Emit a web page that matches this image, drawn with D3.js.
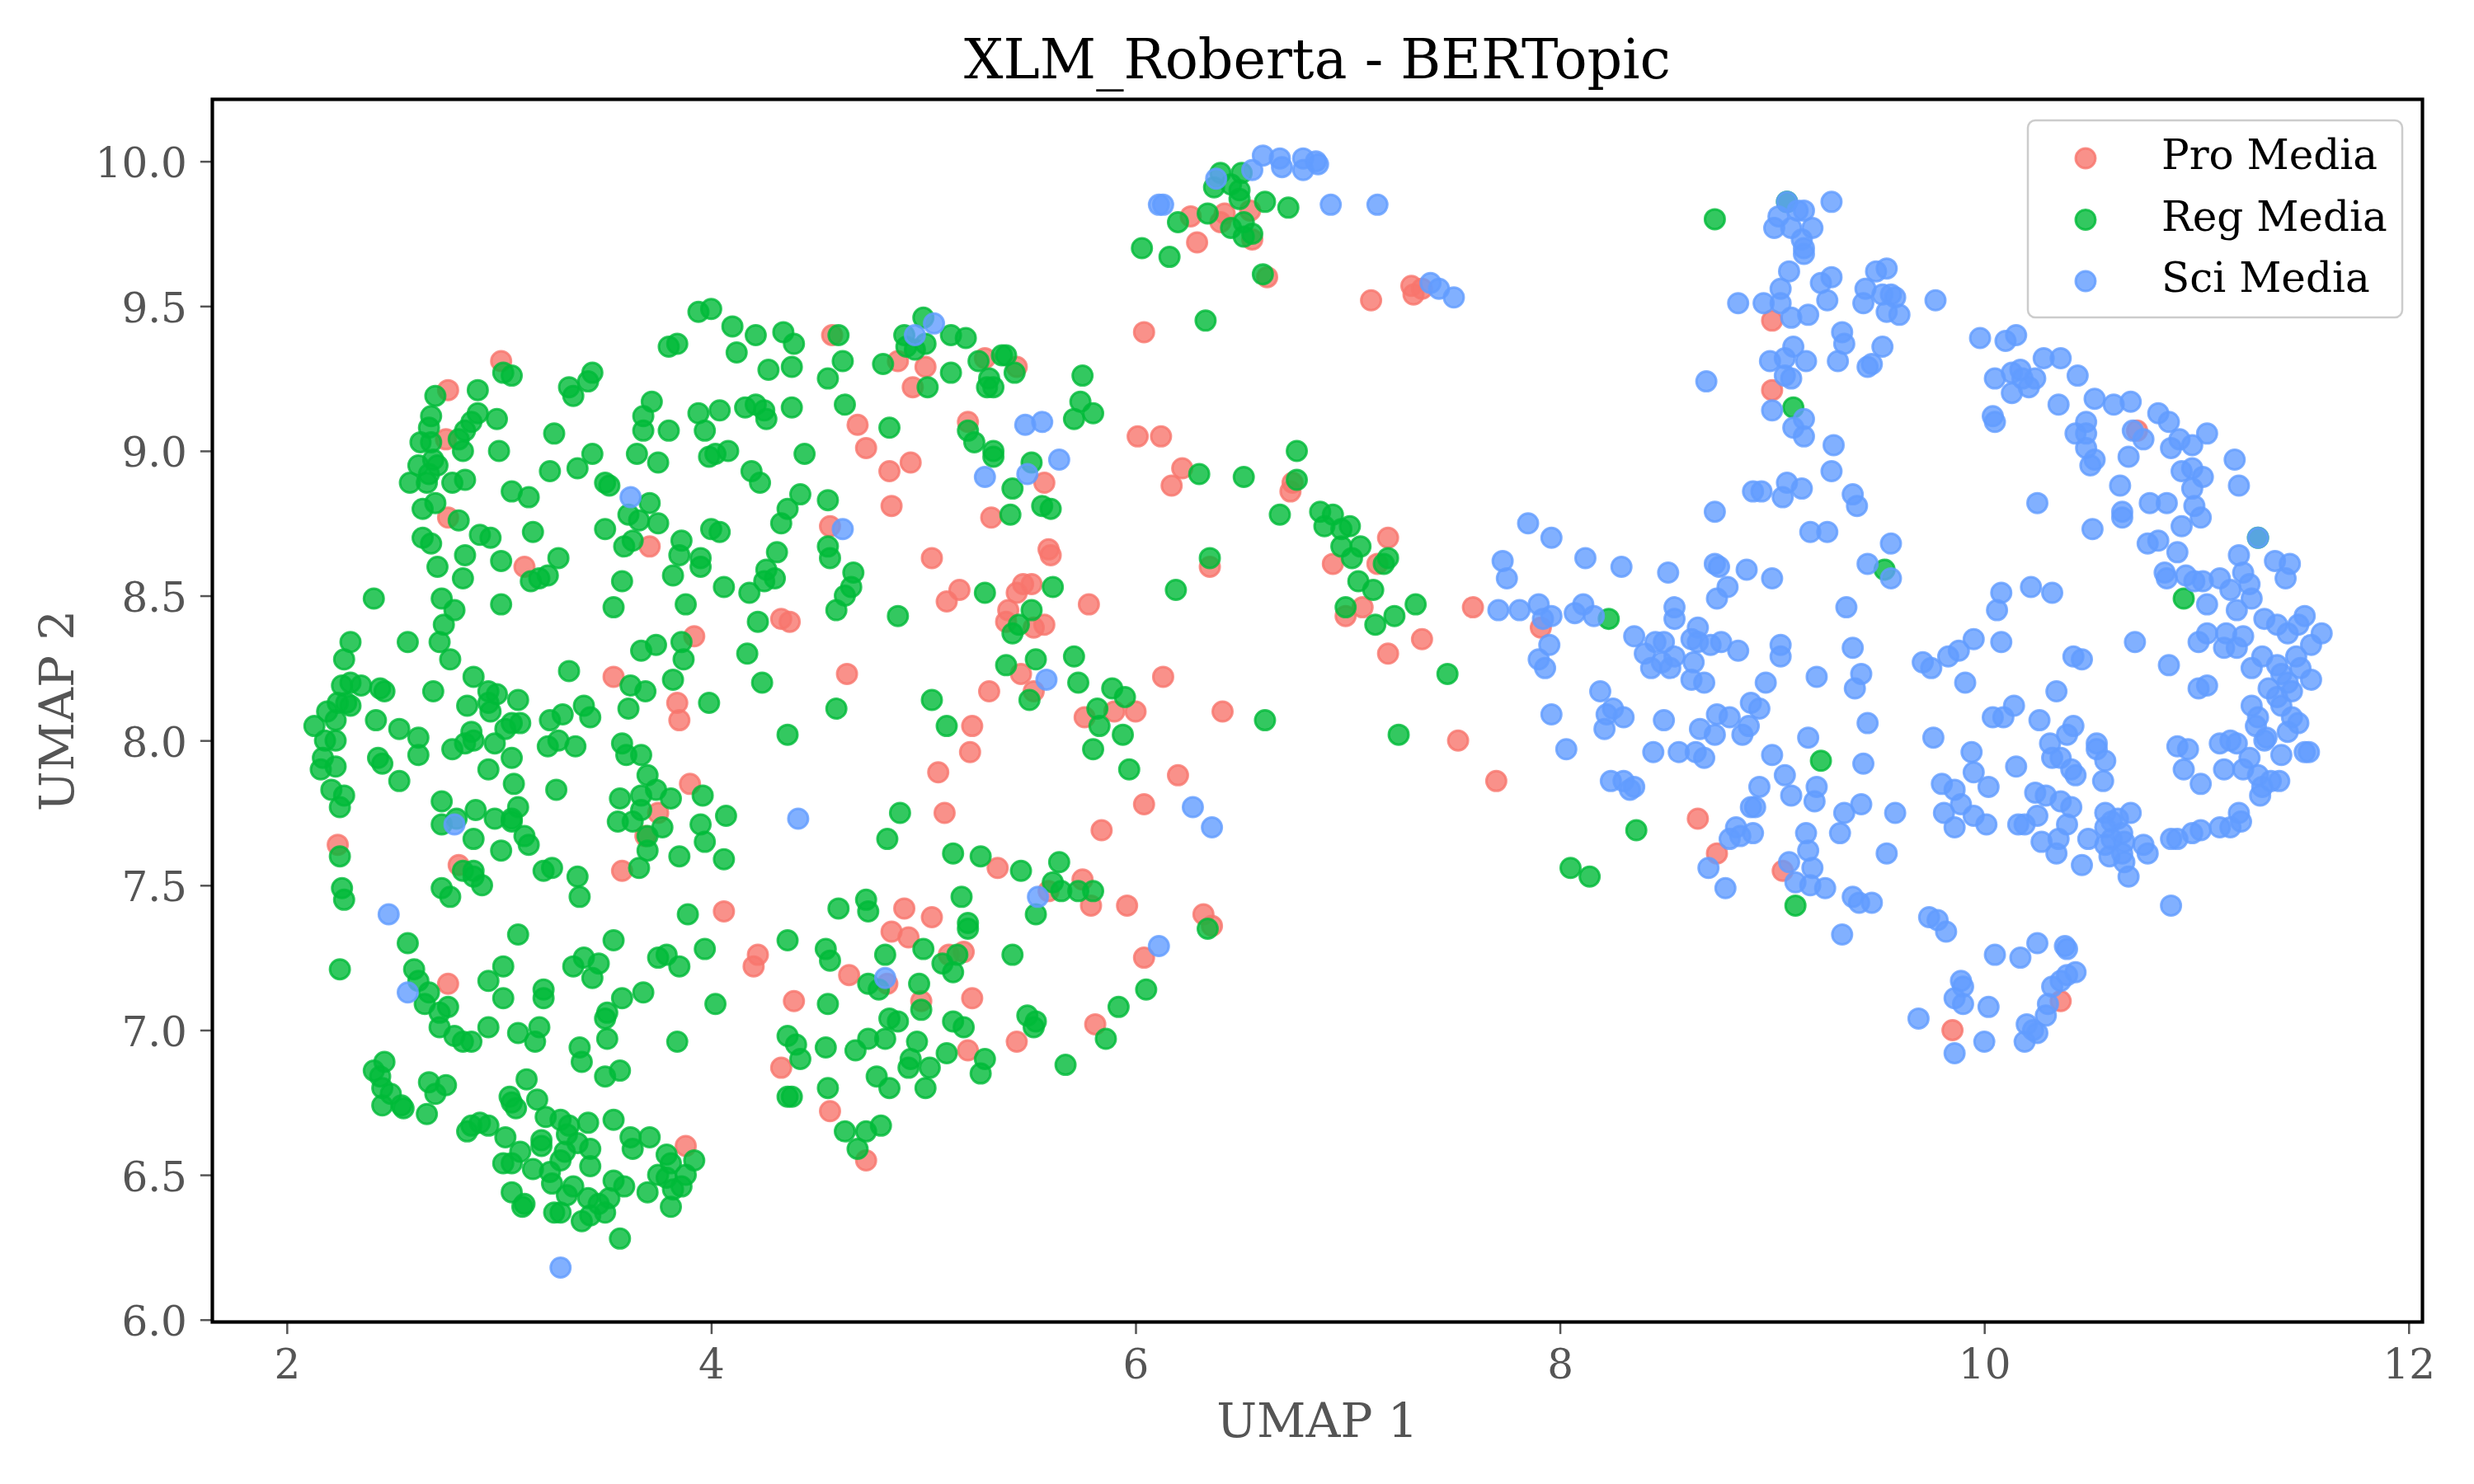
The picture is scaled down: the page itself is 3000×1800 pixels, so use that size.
<!DOCTYPE html>
<meta charset="utf-8">
<script src="https://d3js.org/d3.v7.min.js"></script>
<style>
  body { margin: 0; background: #fff; }
  svg text { font-family: "DejaVu Serif", serif; }
</style>
<body></body>
<script>

// ---- data (UMAP 1, UMAP 2) ----
var seriesNames = ["Pro Media", "Reg Media", "Sci Media"];

var proMedia = [
  [3.01,9.31],[2.76,9.21],[2.75,9.04],[2.76,8.77],[3.12,8.60],[3.71,8.67],[3.92,8.36],[3.54,8.22],[3.84,8.13],[3.85,8.07],[3.90,7.85],[4.33,8.42],[4.37,8.41],
  [2.24,7.64],[2.81,7.57],[3.75,7.75],[3.69,7.67],[3.58,7.55],[4.06,7.41],[4.22,7.26],[4.20,7.22],[4.39,7.10],[2.76,7.16],[4.33,6.87],[3.88,6.60],
  [4.57,9.40],[4.88,9.31],[5.01,9.29],[4.95,9.22],[4.69,9.09],[4.73,9.01],[4.84,8.93],[4.94,8.96],[4.85,8.81],[5.21,9.10],[5.29,9.32],[5.44,9.29],
  [5.57,8.89],[5.32,8.77],[4.56,8.74],[5.04,8.63],[5.59,8.66],[5.60,8.64],[5.17,8.52],[5.11,8.48],[5.47,8.54],[5.51,8.54],[5.44,8.51],[5.78,8.47],
  [5.40,8.45],[5.39,8.41],[5.52,8.39],[5.57,8.40],[4.64,8.23],[5.46,8.23],[5.31,8.17],[5.52,8.17],[6.13,8.22],[6.04,9.41],[6.26,9.81],[6.42,9.82],
  [6.40,9.79],[6.54,9.83],[6.29,9.72],[6.55,9.73],[6.62,9.60],[7.11,9.52],[7.30,9.57],[7.31,9.54],[7.35,9.56],[6.01,9.05],[6.12,9.05],[6.22,8.94],
  [6.17,8.88],[6.74,8.89],[6.73,8.86],[7.19,8.70],[6.93,8.61],[7.14,8.61],[7.07,8.46],[6.99,8.43],[7.59,8.46],[7.35,8.35],[7.19,8.30],[6.35,8.60],
  [5.23,8.05],[5.22,7.96],[5.07,7.89],[5.10,7.75],[5.76,8.08],[5.90,8.10],[6.00,8.10],[6.41,8.10],[7.52,8.00],[6.20,7.88],[6.04,7.78],[5.84,7.69],
  [5.35,7.56],[5.75,7.52],[5.59,7.48],[5.79,7.43],[5.96,7.43],[6.32,7.40],[6.36,7.36],[4.91,7.42],[5.04,7.39],[4.85,7.34],[4.93,7.32],[5.19,7.27],
  [5.12,7.26],[4.65,7.19],[4.83,7.16],[4.99,7.10],[5.23,7.11],[6.04,7.25],[5.81,7.02],[5.44,6.96],[5.21,6.93],[4.56,6.72],[4.73,6.55],
  [9.00,9.45],[9.00,9.21],[7.91,8.39],[7.70,7.86],[8.65,7.73],[8.74,7.61],[9.05,7.55],
  [10.72,9.07],[9.85,7.00],[10.36,7.10]
];

var regMedia = [
  [3.94,9.48],[4.00,9.49],[4.10,9.43],[4.21,9.40],[4.34,9.41],[4.39,9.37],[4.12,9.34],[4.27,9.28],[4.38,9.29],[3.80,9.36],[3.84,9.37],[3.02,9.27],
  [3.06,9.26],[3.33,9.22],[3.42,9.24],[3.44,9.27],[3.35,9.19],[2.70,9.19],[2.90,9.21],[2.68,9.12],[2.67,9.08],[2.63,9.03],[2.68,9.03],[2.90,9.13],
  [2.87,9.10],[2.84,9.07],[2.81,9.04],[2.83,9.00],[2.99,9.11],[3.00,9.00],[2.62,8.95],[2.69,8.97],[2.71,8.95],[2.67,8.92],[2.58,8.89],[2.66,8.89],
  [2.78,8.89],[2.84,8.90],[2.64,8.80],[2.70,8.82],[2.81,8.76],[2.91,8.71],[2.96,8.70],[2.64,8.70],[2.68,8.68],[2.84,8.64],[2.71,8.60],[2.83,8.56],
  [3.01,8.62],[3.15,8.55],[3.19,8.56],[3.23,8.57],[3.28,8.63],[3.06,8.86],[3.14,8.84],[3.16,8.72],[3.26,9.06],[3.24,8.93],[3.37,8.94],[3.44,8.99],
  [3.50,8.89],[3.52,8.88],[2.41,8.49],[2.73,8.49],[2.79,8.45],[2.74,8.40],[2.72,8.34],[2.77,8.28],[3.01,8.47],[2.30,8.34],[2.27,8.28],[2.26,8.19],
  [2.30,8.20],[2.35,8.19],[2.28,8.13],[2.30,8.12],[2.24,8.13],[2.19,8.10],[2.23,8.07],[2.13,8.05],[2.18,8.00],[2.23,8.00],[2.17,7.94],[2.16,7.90],
  [2.23,7.91],[2.21,7.83],[2.27,7.81],[2.57,8.34],[2.44,8.18],[2.46,8.17],[2.42,8.07],[2.53,8.04],[2.62,8.01],[2.62,7.95],[2.43,7.94],[2.45,7.92],
  [2.53,7.86],[2.69,8.17],[2.88,8.22],[2.95,8.17],[2.99,8.16],[2.96,8.10],[3.09,8.14],[2.85,8.12],[2.87,8.03],[2.84,7.99],[2.88,8.00],[2.78,7.97],
  [2.98,7.99],[3.03,8.04],[3.10,8.06],[3.06,7.94],[2.95,7.90],[3.07,7.85],[3.27,7.83],[3.33,8.24],[3.24,8.07],[3.30,8.09],[3.40,8.12],[3.43,8.08],
  [3.23,7.98],[3.28,8.00],[3.36,7.98],[3.58,7.99],[3.60,7.95],[3.67,7.95],[3.70,7.88],[3.62,8.19],[3.69,8.17],[3.61,8.11],[3.82,8.21],[3.99,8.13],
  [3.74,8.33],[3.67,8.31],[3.87,8.28],[3.86,8.34],[4.17,8.30],[4.24,8.20],[4.36,8.02],[3.58,8.55],[3.54,8.46],[3.88,8.47],[3.82,8.57],[3.85,8.64],
  [3.86,8.69],[3.95,8.63],[3.95,8.60],[4.06,8.53],[4.18,8.51],[4.22,8.41],[4.25,8.55],[4.30,8.56],[4.31,8.65],[4.33,8.75],[4.36,8.80],[4.42,8.85],
  [4.23,8.89],[4.19,8.93],[4.00,8.73],[4.04,8.72],[4.08,9.00],[3.99,8.98],[4.02,8.99],[3.80,9.07],[3.75,8.96],[3.65,8.99],[3.72,9.17],[3.68,9.12],
  [3.68,9.07],[3.94,9.13],[3.97,9.07],[4.04,9.14],[4.16,9.15],[4.21,9.16],[4.25,9.14],[4.26,9.11],[4.38,9.15],[4.44,8.99],[3.61,8.78],[3.66,8.76],
  [3.75,8.75],[3.71,8.82],[3.50,8.73],[3.63,8.69],[3.59,8.67],[4.26,8.59],[2.95,8.13],[3.06,8.06],
  [2.25,7.77],[2.73,7.79],[2.73,7.71],[2.80,7.73],[2.89,7.76],[2.98,7.73],[3.06,7.73],[3.09,7.77],[3.06,7.72],[3.12,7.67],[3.14,7.64],[2.88,7.66],
  [3.01,7.62],[2.25,7.60],[2.83,7.55],[2.88,7.55],[2.88,7.53],[2.92,7.50],[2.73,7.49],[2.77,7.46],[3.21,7.55],[3.25,7.56],[3.37,7.53],[3.38,7.46],
  [3.57,7.80],[3.67,7.81],[3.74,7.83],[3.81,7.80],[3.56,7.72],[3.63,7.72],[3.67,7.76],[3.77,7.70],[3.70,7.67],[3.70,7.62],[3.66,7.56],[3.96,7.81],
  [3.95,7.71],[3.97,7.65],[4.07,7.74],[4.06,7.59],[3.85,7.60],[2.26,7.49],[2.27,7.45],[3.89,7.40],[3.09,7.33],[3.54,7.31],[2.57,7.30],[2.25,7.21],
  [2.60,7.21],[2.62,7.17],[2.67,7.13],[2.65,7.09],[2.72,7.06],[2.76,7.08],[2.72,7.01],[2.79,6.98],[2.83,6.96],[2.87,6.96],[2.95,7.01],[3.02,7.22],
  [2.95,7.17],[3.02,7.11],[3.21,7.14],[3.21,7.11],[3.09,6.99],[3.19,7.01],[3.17,6.96],[3.40,7.25],[3.35,7.22],[3.47,7.23],[3.44,7.18],[3.58,7.11],
  [3.68,7.13],[3.51,7.06],[3.50,7.04],[3.51,6.97],[3.38,6.94],[3.39,6.89],[3.50,6.84],[3.57,6.86],[3.75,7.25],[3.79,7.26],[3.85,7.22],[3.97,7.28],
  [4.02,7.09],[3.84,6.96],[4.36,7.31],[4.36,6.98],[4.40,6.95],[4.42,6.90],[4.36,6.77],[4.38,6.77],[2.41,6.86],[2.46,6.89],[2.44,6.84],[2.45,6.80],
  [2.49,6.78],[2.45,6.74],[2.54,6.74],[2.55,6.73],[2.67,6.82],[2.75,6.81],[2.70,6.78],[2.66,6.71],[3.13,6.83],[3.05,6.77],[3.06,6.75],[3.08,6.73],
  [3.18,6.76],[2.85,6.65],[2.87,6.67],[2.91,6.68],[2.95,6.67],[3.03,6.63],[3.10,6.58],[3.22,6.70],[3.29,6.69],[3.33,6.67],[3.42,6.68],[3.54,6.69],
  [3.20,6.62],[3.20,6.60],[3.32,6.64],[3.37,6.61],[3.43,6.59],[3.31,6.58],[3.29,6.55],[3.02,6.54],[3.06,6.54],[3.16,6.52],[3.24,6.51],[3.25,6.47],
  [3.43,6.53],[3.35,6.46],[3.32,6.43],[3.42,6.42],[3.47,6.40],[3.52,6.42],[3.50,6.37],[3.39,6.34],[3.43,6.36],[3.29,6.37],[3.26,6.37],[3.06,6.44],
  [3.12,6.40],[3.11,6.39],[3.59,6.46],[3.54,6.48],[3.70,6.44],[3.62,6.63],[3.71,6.63],[3.63,6.59],[3.79,6.57],[3.81,6.54],[3.75,6.50],[3.79,6.49],
  [3.88,6.50],[3.86,6.46],[3.92,6.55],[3.82,6.45],[3.81,6.39],[3.57,6.28],
  [6.40,9.96],[6.50,9.96],[6.37,9.91],[6.45,9.92],[6.49,9.90],[6.49,9.87],[6.61,9.86],[6.72,9.84],[6.34,9.82],[6.20,9.79],[6.45,9.77],[6.51,9.79],
  [6.55,9.75],[6.51,9.74],[6.03,9.70],[6.16,9.67],[6.60,9.61],[6.33,9.45],[5.00,9.46],[4.91,9.40],[4.92,9.36],[5.01,9.37],[4.96,9.35],[5.13,9.40],
  [5.20,9.39],[4.60,9.40],[4.62,9.31],[4.81,9.30],[4.55,9.25],[5.13,9.27],[5.26,9.31],[5.37,9.33],[5.39,9.33],[5.31,9.25],[5.30,9.22],[5.33,9.22],
  [5.43,9.27],[5.02,9.22],[4.63,9.16],[5.75,9.26],[5.74,9.17],[5.80,9.13],[5.71,9.11],[4.84,9.08],[5.21,9.07],[5.24,9.03],[5.33,9.00],[5.33,8.98],
  [5.51,8.96],[5.42,8.87],[5.41,8.78],[5.56,8.81],[5.60,8.80],[4.55,8.83],[4.55,8.67],[4.56,8.63],[4.67,8.58],[4.66,8.53],[4.63,8.50],[4.59,8.45],
  [4.88,8.43],[5.29,8.51],[5.61,8.53],[5.51,8.45],[5.45,8.40],[5.42,8.37],[5.39,8.26],[5.53,8.28],[5.71,8.29],[5.73,8.20],[5.89,8.18],[5.95,8.15],
  [5.04,8.14],[6.30,8.92],[6.51,8.91],[6.76,9.00],[6.76,8.90],[6.68,8.78],[6.87,8.79],[6.93,8.78],[6.89,8.74],[7.01,8.74],[6.97,8.73],[6.97,8.67],
  [7.06,8.67],[7.02,8.63],[7.19,8.63],[7.17,8.61],[7.05,8.55],[7.12,8.52],[6.99,8.46],[7.32,8.47],[7.22,8.43],[7.13,8.40],[7.47,8.23],[6.35,8.63],
  [6.19,8.52],
  [4.59,8.11],[5.50,8.14],[5.11,8.05],[5.82,8.11],[5.83,8.05],[5.94,8.02],[5.80,7.97],[5.97,7.90],[6.61,8.07],[7.24,8.02],[4.89,7.75],[4.83,7.66],
  [5.14,7.61],[5.27,7.60],[5.46,7.55],[5.64,7.58],[5.61,7.51],[5.65,7.48],[5.73,7.48],[5.80,7.48],[5.53,7.40],[5.18,7.46],[4.60,7.42],[4.73,7.45],
  [4.74,7.41],[5.21,7.37],[5.21,7.35],[4.82,7.26],[5.00,7.28],[4.54,7.28],[4.56,7.24],[5.09,7.23],[5.16,7.26],[5.14,7.20],[5.42,7.26],[4.74,7.16],
  [4.79,7.14],[4.98,7.16],[4.99,7.07],[4.55,7.09],[4.84,7.04],[4.88,7.03],[5.14,7.03],[5.19,7.01],[5.49,7.05],[5.53,7.03],[5.52,7.01],[4.74,6.97],
  [4.82,6.97],[4.97,6.96],[4.54,6.94],[4.68,6.93],[4.94,6.90],[4.93,6.87],[5.03,6.87],[5.11,6.92],[5.29,6.90],[5.27,6.85],[4.78,6.84],[4.84,6.80],
  [5.01,6.80],[4.55,6.80],[5.67,6.88],[5.86,6.97],[5.92,7.08],[6.05,7.14],[6.34,7.35],[4.63,6.65],[4.73,6.65],[4.80,6.67],[4.69,6.59],
  [8.73,9.80],[9.07,9.86],[9.10,9.15],[9.53,8.59],[8.23,8.42],[9.23,7.93],[8.36,7.69],[8.05,7.56],[8.14,7.53],[9.11,7.43],
  [11.29,8.70],[10.94,8.49]
];

var sciMedia = [
  [3.62,8.84],[2.79,7.71],[2.48,7.40],[2.57,7.13],[3.29,6.18],[4.41,7.73],
  [6.60,10.02],[6.68,10.01],[6.69,9.98],[6.79,10.01],[6.79,9.97],[6.85,10.00],[6.86,9.99],[6.55,9.97],[6.38,9.94],[6.11,9.85],[6.13,9.85],[6.92,9.85],
  [7.14,9.85],[7.39,9.58],[7.43,9.56],[7.50,9.53],[5.05,9.44],[4.96,9.40],[5.48,9.09],[5.56,9.10],[5.64,8.97],[5.29,8.91],[5.49,8.92],[4.62,8.73],
  [5.58,8.21],[6.27,7.77],[6.36,7.70],[5.54,7.46],[6.11,7.29],[4.82,7.18],
  [9.28,9.86],[9.07,9.86],[9.12,9.83],[9.15,9.83],[9.03,9.81],[9.01,9.77],[9.09,9.77],[9.19,9.77],[9.14,9.73],[9.15,9.70],[9.15,9.68],[9.08,9.62],
  [9.04,9.56],[9.23,9.58],[9.28,9.60],[8.84,9.51],[8.96,9.51],[9.04,9.51],[9.09,9.46],[9.17,9.47],[9.26,9.52],[9.33,9.41],[9.34,9.37],[9.31,9.31],
  [8.99,9.31],[9.06,9.32],[9.10,9.36],[9.16,9.31],[9.06,9.26],[9.09,9.25],[9.00,9.14],[9.15,9.11],[9.10,9.08],[9.15,9.05],[9.45,9.29],[9.47,9.30],
  [9.52,9.36],[9.49,9.62],[9.54,9.63],[9.44,9.56],[9.43,9.51],[9.52,9.54],[9.56,9.54],[9.58,9.53],[9.54,9.48],[8.69,9.24],[9.29,9.02],[9.28,8.93],
  [9.38,8.85],[9.40,8.81],[8.91,8.86],[8.95,8.86],[9.07,8.89],[9.05,8.84],[9.14,8.87],[8.73,8.79],[9.18,8.72],[9.26,8.72],[9.56,8.68],[9.45,8.61],
  [9.56,8.56],[8.73,8.61],[8.75,8.60],[8.88,8.59],[9.00,8.56],[8.79,8.53],[8.74,8.49],[8.51,8.58],[8.54,8.46],[8.54,8.42],[8.65,8.39],[7.85,8.75],
  [7.96,8.70],[7.73,8.62],[7.75,8.56],[8.12,8.63],[8.29,8.60],[7.71,8.45],[7.81,8.45],[7.90,8.47],[7.96,8.43],[7.92,8.42],[8.07,8.44],[8.11,8.47],
  [8.16,8.43],[7.95,8.33],[7.90,8.28],[7.93,8.25],[8.35,8.36],[8.40,8.30],[8.45,8.34],[8.49,8.34],[8.43,8.25],[8.48,8.27],[8.54,8.29],[8.52,8.25],
  [8.62,8.35],[8.65,8.34],[8.71,8.33],[8.76,8.34],[8.84,8.31],[8.63,8.27],[8.62,8.21],[8.68,8.20],[9.04,8.33],[9.04,8.29],[8.97,8.20],[9.21,8.22],
  [9.35,8.46],[9.38,8.32],[9.42,8.23],[9.39,8.18],[9.45,8.06],[8.19,8.17],[8.25,8.11],[8.30,8.08],[8.22,8.09],[8.21,8.04],[7.96,8.09],[8.03,7.97],
  [8.49,8.07],[8.44,7.96],[8.56,7.96],[8.64,7.96],[8.68,7.94],[8.66,8.04],[8.74,8.09],[8.80,8.08],[8.73,8.02],[8.86,8.02],[8.90,8.13],[8.94,8.11],
  [8.89,8.05],[9.17,8.01],[9.00,7.95],[9.06,7.88],[8.94,7.84],[9.09,7.81],[9.21,7.84],[9.20,7.79],[9.43,7.92],[9.34,7.75],[9.42,7.78],[9.58,7.75],
  [9.32,7.68],[9.16,7.68],[9.17,7.62],[9.19,7.56],[9.54,7.61],[8.24,7.86],[8.30,7.86],[8.33,7.83],[8.35,7.84],[8.90,7.77],[8.92,7.77],[8.83,7.70],
  [8.85,7.67],[8.91,7.68],[8.80,7.66],[9.08,7.58],[9.11,7.51],[9.18,7.50],[9.25,7.49],[8.70,7.56],[8.78,7.49],[9.38,7.46],[9.41,7.44],[9.47,7.44],
  [9.33,7.33],
  [9.60,9.47],[9.77,9.52],[9.98,9.39],[10.10,9.38],[10.15,9.40],[10.05,9.25],[10.13,9.27],[10.17,9.28],[10.18,9.25],[10.24,9.25],[10.13,9.20],[10.21,9.22],
  [10.28,9.32],[10.36,9.32],[10.44,9.26],[10.04,9.12],[10.05,9.10],[10.35,9.16],[10.52,9.18],[10.61,9.16],[10.69,9.17],[10.48,9.10],[10.43,9.06],[10.48,9.06],
  [10.48,9.01],[10.52,8.97],[10.50,8.95],[10.68,8.98],[10.64,8.88],[10.70,9.07],[10.75,9.04],[10.82,9.13],[10.87,9.10],[10.88,9.01],[10.92,9.04],[10.98,9.02],
  [11.05,9.06],[10.93,8.93],[10.98,8.94],[11.03,8.91],[10.98,8.87],[10.99,8.81],[11.02,8.77],[11.18,8.97],[11.20,8.88],[10.25,8.82],[10.51,8.73],[10.65,8.77],
  [10.65,8.79],[10.78,8.82],[10.86,8.82],[10.93,8.74],[10.77,8.68],[10.82,8.69],[10.91,8.65],[10.85,8.58],[10.86,8.56],[10.95,8.57],[10.99,8.55],[11.03,8.55],
  [11.11,8.56],[11.20,8.64],[11.29,8.70],[11.22,8.58],[11.25,8.54],[11.37,8.62],[11.44,8.61],[11.42,8.56],[11.16,8.52],[11.26,8.49],[11.05,8.47],[11.19,8.45],
  [11.32,8.42],[11.38,8.40],[11.51,8.43],[11.48,8.40],[11.43,8.37],[11.59,8.37],[11.54,8.33],[11.01,8.34],[11.05,8.37],[11.14,8.37],[11.22,8.36],[11.19,8.32],
  [11.13,8.32],[11.31,8.29],[11.38,8.26],[11.47,8.29],[11.26,8.25],[11.34,8.18],[11.40,8.23],[11.43,8.20],[11.54,8.21],[11.38,8.15],[11.45,8.17],[11.49,8.25],
  [11.26,8.12],[11.29,8.08],[11.40,8.12],[11.45,8.08],[11.48,8.06],[11.28,8.05],[11.43,8.03],[11.33,8.01],[11.32,8.00],[11.40,7.95],[11.51,7.96],[11.53,7.96],
  [11.16,8.00],[11.19,7.99],[11.11,7.99],[11.25,7.94],[11.13,7.90],[11.22,7.90],[11.29,7.88],[11.31,7.84],[11.39,7.86],[11.35,7.86],[11.30,7.81],[10.91,7.98],
  [10.96,7.97],[10.94,7.90],[11.02,7.85],[11.20,7.75],[11.21,7.72],[11.16,7.70],[11.11,7.70],[11.02,7.69],[10.98,7.68],[10.91,7.66],[10.88,7.66],[10.88,7.43],
  [10.71,8.34],[10.87,8.26],[11.01,8.18],[11.05,8.19],[10.42,8.29],[10.46,8.28],[10.34,8.17],[10.08,8.51],[10.22,8.53],[10.32,8.51],[10.06,8.45],[10.08,8.34],
  [9.95,8.35],[9.88,8.31],[9.83,8.29],[9.71,8.27],[9.75,8.25],[9.91,8.20],[10.04,8.08],[10.09,8.08],[10.14,8.12],[10.26,8.07],[9.76,8.01],[9.94,7.96],
  [9.95,7.89],[9.80,7.85],[9.86,7.83],[9.89,7.78],[9.81,7.75],[9.86,7.70],[9.95,7.74],[10.02,7.84],[10.01,7.71],[10.15,7.91],[10.31,7.99],[10.32,7.94],
  [10.36,7.94],[10.42,8.05],[10.39,8.02],[10.41,7.90],[10.43,7.88],[10.53,7.99],[10.53,7.97],[10.57,7.93],[10.56,7.86],[10.24,7.82],[10.29,7.81],[10.36,7.79],
  [10.41,7.77],[10.25,7.74],[10.39,7.71],[10.16,7.71],[10.19,7.71],[10.27,7.65],[10.35,7.66],[10.34,7.61],[10.49,7.66],[10.57,7.75],[10.60,7.72],[10.63,7.73],
  [10.69,7.75],[10.57,7.70],[10.65,7.68],[10.60,7.66],[10.66,7.65],[10.57,7.64],[10.59,7.60],[10.66,7.58],[10.75,7.64],[10.77,7.61],[10.68,7.53],[10.46,7.57],
  [10.65,7.61],[9.74,7.39],[9.78,7.38],[9.82,7.34],[10.05,7.26],[10.17,7.25],[10.25,7.30],[10.38,7.29],[10.39,7.28],[9.89,7.17],[9.90,7.15],[9.86,7.11],
  [9.90,7.09],[10.02,7.08],[9.69,7.04],[10.32,7.15],[10.36,7.17],[10.43,7.20],[10.39,7.19],[10.30,7.09],[10.29,7.05],[10.20,7.02],[10.23,7.00],[10.19,6.96],
  [10.25,6.99],[9.86,6.92],[10.00,6.96]
];

var xTicks = [2, 4, 6, 8, 10, 12];
var yTicks = [6.0, 6.5, 7.0, 7.5, 8.0, 8.5, 9.0, 9.5, 10.0];
var xDomain = [1.649, 12.065];
var yDomain = [5.992, 10.214];

// ---- layout / style ----
var W = 3000, H = 1800;
var plot = {left: 257.5, right: 2937.5, top: 120.5, bottom: 1603.5};
var colors = ["#F8766D", "#00BA38", "#619CFF"];
var grey = "#555555";
var r = 12;

var series = [proMedia, regMedia, sciMedia].map(function(v, i) {
  return {name: seriesNames[i], values: v, color: colors[i]};
});

var svg = d3.select("body").append("svg")
  .attr("width", W)
  .attr("height", H)
  .style("display", "block");

var x = d3.scaleLinear().domain(xDomain).range([plot.left, plot.right]);
var y = d3.scaleLinear().domain(yDomain).range([plot.bottom, plot.top]);

// points, one layer per series in legend order
series.forEach(function(s) {
  svg.append("g")
    .selectAll("circle")
    .data(s.values)
    .enter().append("circle")
    .attr("cx", function(d) { return x(d[0]); })
    .attr("cy", function(d) { return y(d[1]); })
    .attr("r", r)
    .attr("fill", s.color)
    .attr("fill-opacity", 0.8)
    .attr("stroke", s.color)
    .attr("stroke-opacity", 0.8)
    .attr("stroke-width", 3);
});

// axes
var xAxis = d3.axisBottom(x).tickValues(xTicks).tickSize(14.6).tickPadding(16).tickFormat(d3.format("d"));
var yAxis = d3.axisLeft(y).tickValues(yTicks).tickSize(14.6).tickPadding(16).tickFormat(d3.format(".1f"));

var xg = svg.append("g")
  .attr("transform", "translate(0," + plot.bottom + ")")
  .call(xAxis);
var yg = svg.append("g")
  .attr("transform", "translate(" + plot.left + ",0)")
  .call(yAxis);

[xg, yg].forEach(function(g) {
  g.select(".domain").remove();
  g.selectAll(".tick line").attr("stroke", grey).attr("stroke-width", 2.5);
  g.selectAll(".tick text")
    .attr("fill", grey)
    .style("font-family", "'DejaVu Serif', serif")
    .style("font-size", "50px");
});
xg.selectAll(".tick text").attr("dy", "0.76em");
yg.selectAll(".tick text").attr("dy", "0.38em");

// spines
svg.append("rect")
  .attr("x", plot.left)
  .attr("y", plot.top)
  .attr("width", plot.right - plot.left)
  .attr("height", plot.bottom - plot.top)
  .attr("fill", "none")
  .attr("stroke", "#000")
  .attr("stroke-width", 4.2);

// title and axis labels
svg.append("text")
  .attr("x", (plot.left + plot.right) / 2)
  .attr("y", 95)
  .attr("text-anchor", "middle")
  .style("font-size", "66.7px")
  .attr("fill", "#000")
  .text("XLM_Roberta - BERTopic");

svg.append("text")
  .attr("x", (plot.left + plot.right) / 2)
  .attr("y", 1743)
  .attr("text-anchor", "middle")
  .style("font-size", "58px")
  .attr("fill", grey)
  .text("UMAP 1");

svg.append("text")
  .attr("transform", "translate(89," + (plot.top + plot.bottom) / 2 + ") rotate(-90)")
  .attr("text-anchor", "middle")
  .style("font-size", "58px")
  .attr("fill", grey)
  .text("UMAP 2");

// legend
var legend = svg.append("g");
legend.append("rect")
  .attr("x", 2459).attr("y", 146)
  .attr("width", 454).attr("height", 239)
  .attr("rx", 9)
  .attr("fill", "#fff").attr("fill-opacity", 0.8)
  .attr("stroke", "#cccccc").attr("stroke-width", 2.5);

var items = legend.selectAll(".item")
  .data(series)
  .enter().append("g")
  .attr("class", "item")
  .attr("transform", function(d, i) { return "translate(0," + (i * 74.5) + ")"; });

items.append("circle")
  .attr("cx", 2529).attr("cy", 192)
  .attr("r", r)
  .attr("fill", function(d) { return d.color; })
  .attr("fill-opacity", 0.8)
  .attr("stroke", function(d) { return d.color; })
  .attr("stroke-opacity", 0.8)
  .attr("stroke-width", 3);

items.append("text")
  .attr("x", 2621).attr("y", 205)
  .style("font-size", "50px")
  .attr("fill", "#000")
  .text(function(d) { return d.name; });

</script>
